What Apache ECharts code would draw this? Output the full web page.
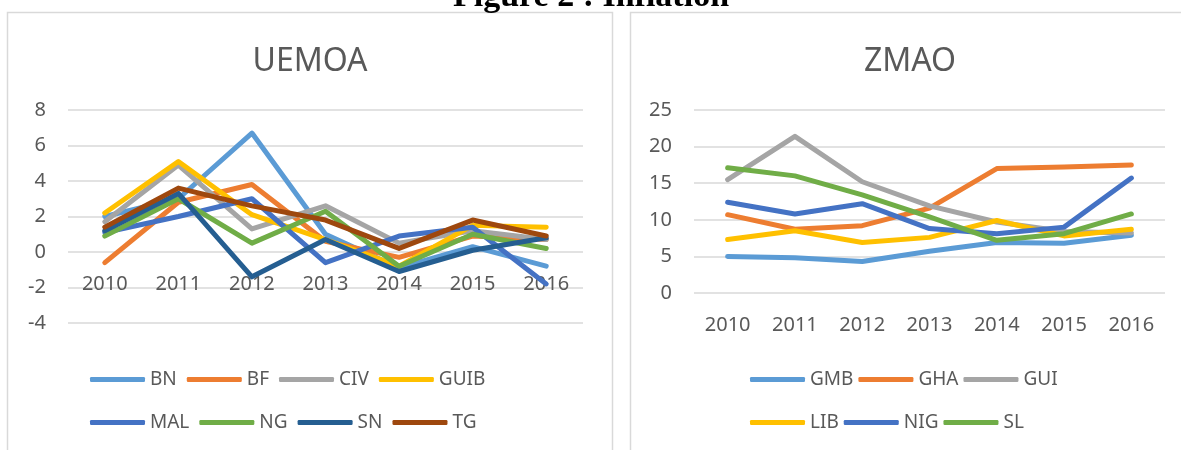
<!DOCTYPE html>
<html>
<head>
<meta charset="utf-8">
<script src="https://cdn.jsdelivr.net/npm/echarts@6/dist/echarts.min.js"></script>
<style>
html,body{margin:0;padding:0;background:#fff;}
#c{width:1181px;height:450px;}
</style>
</head>
<body>
<div id="c"></div>
<script>
const years = ['2010','2011','2012','2013','2014','2015','2016'];

// UEMOA
const uemoaNames = ['BN','BF','CIV','GUIB','MAL','NG','SN','TG'];
const BN   = [2.0, 3.0, 6.7, 1.0, -0.9, 0.3, -0.8];
const BF   = [-0.6, 2.8, 3.8, 0.6, -0.3, 0.9, 0.7];
const CIV  = [1.7, 4.9, 1.3, 2.6, 0.5, 1.2, 0.7];
const GUIB = [2.2, 5.1, 2.1, 0.7, -0.8, 1.5, 1.4];
const MAL  = [1.1, 2.0, 3.0, -0.6, 0.9, 1.4, -1.8];
const NG   = [0.9, 3.0, 0.5, 2.3, -0.8, 1.0, 0.2];
const SN   = [1.2, 3.3, -1.4, 0.7, -1.1, 0.1, 0.8];
const TG   = [1.4, 3.6, 2.6, 1.8, 0.2, 1.8, 0.9];
const uemoaData = [BN, BF, CIV, GUIB, MAL, NG, SN, TG];
const uemoaColors = ['#5B9BD5','#ED7D31','#A5A5A5','#FFC000','#4472C4','#70AD47','#255E91','#9E480E'];

// ZMAO
const zmaoNames = ['GMB','GHA','GUI','LIB','NIG','SL'];
const GMB = [5.0, 4.8, 4.3, 5.7, 6.9, 6.8, 7.9];
const GHA = [10.7, 8.7, 9.2, 11.6, 17.0, 17.2, 17.5];
const GUI = [15.5, 21.4, 15.2, 11.9, 9.7, 8.4, 8.2];
const LIB = [7.3, 8.5, 6.9, 7.6, 9.9, 7.8, 8.7];
const NIG = [12.4, 10.8, 12.2, 8.8, 8.1, 9.0, 15.7];
const SL  = [17.1, 16.0, 13.4, 10.4, 7.2, 8.1, 10.8];
const zmaoData = [GMB, GHA, GUI, LIB, NIG, SL];
const zmaoColors = ['#5B9BD5','#ED7D31','#A5A5A5','#FFC000','#4472C4','#70AD47'];

const FONT = '"Noto Sans", "Open Sans", sans-serif';
const TXT = '#595959';
const GRIDC = '#D9D9D9';

function mkSeries(names, data, colors, idx){
  return names.map((n,i)=>({
    name:n, type:'line', xAxisIndex:idx, yAxisIndex:idx,
    data:data[i], symbol:'none', smooth:false,
    lineStyle:{color:colors[i], width:5, cap:'round', join:'round'},
    itemStyle:{color:colors[i]},
    emphasis:{disabled:true}, animation:false
  }));
}

function mkLegend(names, left, top, textW, gap){
  return {
    data:names, left:left, top:top, orient:'horizontal', padding:0,
    icon:'roundRect', itemWidth:55, itemHeight:5, itemGap:gap,
    textStyle:{color:TXT, fontSize:19, fontFamily:FONT, width:textW},
    selectedMode:false
  };
}

const option = {
  animation:false,
  backgroundColor:'#fff',
  graphic:[
    {type:'rect', shape:{x:7.5,y:12.5,width:605,height:500}, style:{fill:'none', stroke:GRIDC, lineWidth:1.5}, silent:true},
    {type:'rect', shape:{x:630.5,y:12.5,width:600,height:500}, style:{fill:'none', stroke:GRIDC, lineWidth:1.5}, silent:true},
    {type:'text', x:591, y:-3, style:{text:'Figure 2 : Inflation', textAlign:'center', textVerticalAlign:'middle', font:'bold 34px "Liberation Serif", "Times New Roman", serif', fill:'#000'}, silent:true},
    {type:'text', x:310, y:62, style:{text:'UEMOA', textAlign:'center', textVerticalAlign:'middle', font:'32px ' + FONT, fill:TXT}, silent:true},
    {type:'text', x:910, y:62, style:{text:'ZMAO', textAlign:'center', textVerticalAlign:'middle', font:'32px ' + FONT, fill:TXT}, silent:true}
  ],
  grid:[
    {left:68, right:598, top:110, bottom:127, containLabel:false},
    {left:694, right:16, top:110, bottom:157, containLabel:false}
  ],
  xAxis:[
    {type:'category', gridIndex:0, data:years, boundaryGap:true, position:'bottom', offset:-71,
     axisLine:{show:false, onZero:false}, axisTick:{show:false},
     axisLabel:{color:TXT, fontSize:20, fontFamily:FONT, margin:22}},
    {type:'category', gridIndex:1, data:years, boundaryGap:true,
     axisLine:{show:false}, axisTick:{show:false},
     axisLabel:{color:TXT, fontSize:20, fontFamily:FONT, margin:22}}
  ],
  yAxis:[
    {type:'value', gridIndex:0, min:-4, max:8, interval:2,
     axisLine:{show:false}, axisTick:{show:false},
     splitLine:{lineStyle:{color:GRIDC, width:1.5}},
     axisLabel:{color:TXT, fontSize:20, fontFamily:FONT, margin:22}},
    {type:'value', gridIndex:1, min:0, max:25, interval:5,
     axisLine:{show:false}, axisTick:{show:false},
     splitLine:{lineStyle:{color:GRIDC, width:1.5}},
     axisLabel:{color:TXT, fontSize:20, fontFamily:FONT, margin:22}}
  ],
  legend:[
    mkLegend(uemoaNames.slice(0,4), 90, 370, 44, 10),
    mkLegend(uemoaNames.slice(4), 90, 413, 44, 10),
    mkLegend(zmaoNames.slice(0,3), 750, 370, 48, 5),
    mkLegend(zmaoNames.slice(3), 750, 413, 48, 5)
  ],
  series: mkSeries(uemoaNames, uemoaData, uemoaColors, 0)
    .concat(mkSeries(zmaoNames, zmaoData, zmaoColors, 1))
};

const chart = echarts.init(document.getElementById('c'), null, {renderer:'canvas'});
chart.setOption(option);
</script>
</body>
</html>
